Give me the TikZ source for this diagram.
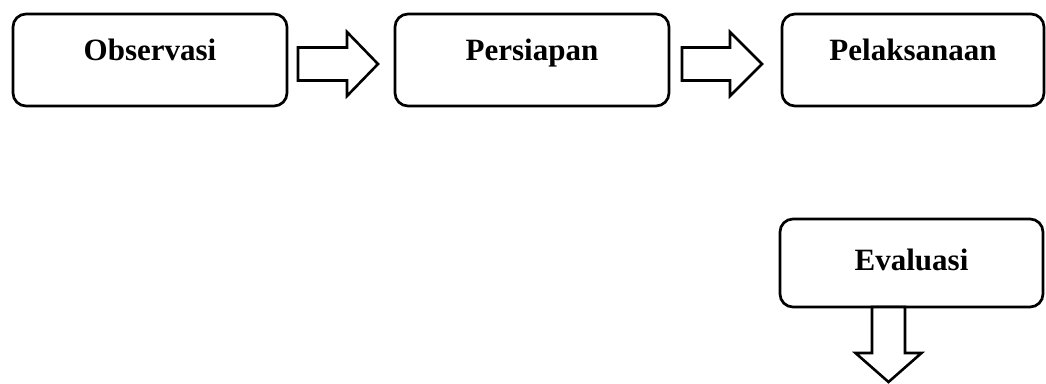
\documentclass[tikz,border=0pt]{standalone}
\usepackage{fontspec}
\setmainfont{Liberation Serif}
\begin{document}
\begin{tikzpicture}[x=1pt,y=-1pt,
  stagebox/.style={draw=black, line width=2.7pt, rounded corners=13pt, inner sep=0pt,
    font=\fontsize{31}{36}\selectfont\bfseries, align=center},
  blockarrow/.style={draw=black, line width=2.6pt, fill=white, line join=miter}]
\useasboundingbox (0,0) rectangle (1046,383);
\node[stagebox, minimum width=274pt, text height=46pt, text depth=46pt] (obs) at (150,60) {Observasi};
\node[stagebox, minimum width=274pt, text height=46pt, text depth=46pt] (per) at (532,60) {Persiapan};
\node[stagebox, minimum width=262pt, text height=46pt, text depth=46pt] (pel) at (913,60) {Pelaksanaan};
\node[stagebox, minimum width=263pt, text height=51pt, text depth=37pt] (eva) at (911.5,263) {Evaluasi};
% block arrows
\draw[blockarrow] (298,47.5) -- (347,47.5) -- (347,32) -- (378,64) -- (347,96) -- (347,80.5) -- (298,80.5) -- cycle;
\draw[blockarrow] (682,47.5) -- (730,47.5) -- (730,32) -- (762,64) -- (730,96) -- (730,80.5) -- (682,80.5) -- cycle;
\draw[blockarrow] (872,307) -- (872,353) -- (855.5,353) -- (888.5,382) -- (921.5,353) -- (905,353) -- (905,307) -- cycle;
\end{tikzpicture}
\end{document}
